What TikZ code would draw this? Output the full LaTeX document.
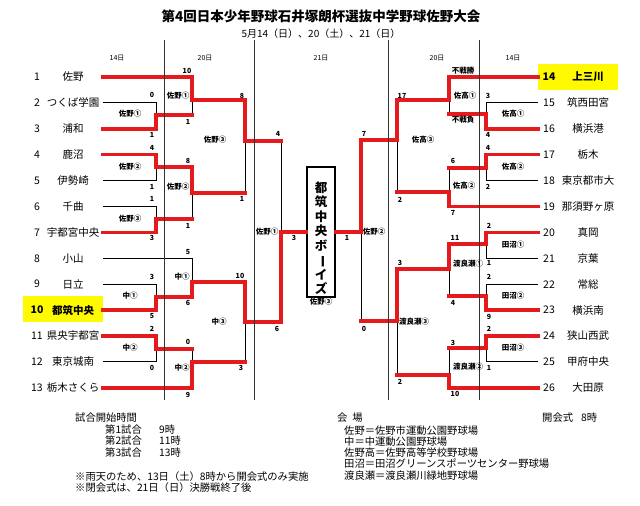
\documentclass[tikz,border=0pt]{standalone}
\usepackage{fontspec}
\setmainfont{Noto Sans CJK JP}
\usepackage{tikz}
\usetikzlibrary{calc}
\definecolor{winred}{RGB}{228,26,28}
\definecolor{hilite}{RGB}{255,250,0}

\begin{document}
\begin{tikzpicture}[x = 1pt, y = -1pt,
  lose/.style = {draw=black, line width=0.9pt},
  win/.style = {draw=winred, line width=3.4pt, line cap=rect},
  divider/.style = {draw=black!80, line width=0.9pt},
  team/.style = {font=\fontsize{10.5}{12}\selectfont},
  pick/.style = {font=\fontsize{10.5}{12}\selectfont\bfseries},
  score/.style = {font=\fontsize{7}{8}\selectfont\bfseries, inner sep=0pt},
  venue/.style = {font=\fontsize{7.5}{8}\selectfont\bfseries, inner sep=0pt},
  day/.style = {font=\fontsize{7}{8}\selectfont, inner sep=0pt},
  note/.style = {font=\fontsize{10.3}{12}\selectfont, anchor=west, inner sep=0pt}]
\useasboundingbox (0,0) rectangle (640,506);

\node[font=\fontsize{13.5}{16}\selectfont\bfseries] (title) at (321,16) {第4回日本少年野球石井塚朗杯選抜中学野球佐野大会};
\node[font=\fontsize{10}{12}\selectfont] (dates) at (321,34) {5月14（日）、20（土）、21（日）};
\node[day] (d1) at (117,58) {14日};
\node[day] (d2) at (205,58) {20日};
\node[day] (d3) at (321,58) {21日};
\node[day] (d4) at (437,58) {20日};
\node[day] (d5) at (513,58) {14日};

\fill[hilite] (23,296) rectangle (103,322);
\fill[hilite] (538,64) rectangle (618,90);

\foreach \i/\name/\sty in {1/佐野/team, 2/つくば学園/team, 3/浦和/team, 4/鹿沼/team,
  5/伊勢崎/team, 6/千曲/team, 7/宇都宮中央/team, 8/小山/team, 9/日立/team,
  10/都筑中央/pick, 11/県央宇都宮/team, 12/東京城南/team, 13/栃木さくら/team}{
  \pgfmathsetmacro\yy{77+25.9*(\i-1)}
  \node[\sty] (n\i) at (37,\yy) {\i};
  \node[\sty] (t\i) at (73,\yy) {\name};
  \coordinate (s\i) at (103,\yy);
}
\foreach \i/\name/\sty in {14/上三川/pick, 15/筑西田宮/team, 16/横浜港/team, 17/栃木/team,
  18/東京都市大/team, 19/那須野ヶ原/team, 20/真岡/team, 21/京葉/team, 22/常総/team,
  23/横浜南/team, 24/狭山西武/team, 25/甲府中央/team, 26/大田原/team}{
  \pgfmathsetmacro\yy{77+25.9*(\i-14)}
  \node[\sty] (n\i) at (549,\yy) {\i};
  \node[\sty] (t\i) at (588,\yy) {\name};
  \coordinate (s\i) at (538,\yy);
}

\coordinate (sa1) at (156,115);
\coordinate (sa2) at (156,167);
\coordinate (sa3) at (156,219);
\coordinate (na1) at (156,297);
\coordinate (na2) at (156,349);
\coordinate (q1) at (192,100);
\coordinate (q2) at (192,193);
\coordinate (q3) at (192,282);
\coordinate (q4) at (192,362);
\coordinate (h1) at (245,141);
\coordinate (h2) at (245,322);
\coordinate (f1) at (281,232);

\coordinate (ta1) at (486,114);
\coordinate (ta2) at (486,168);
\coordinate (da1) at (486,244);
\coordinate (da2) at (486,296);
\coordinate (da3) at (486,348);
\coordinate (p1) at (449,100);
\coordinate (p2) at (449,192);
\coordinate (p3) at (449,269);
\coordinate (p4) at (449,375);
\coordinate (g1) at (397,140);
\coordinate (g2) at (397,321);
\coordinate (f2) at (361,232);

\node[draw, line width=1.8pt, minimum width=28pt, minimum height=130pt, inner sep=0pt] (champ) at (321,232) {};
\node[font=\fontsize{12.5}{14.5}\selectfont\bfseries, align=center, inner sep=0pt] (champname) at (321,238)
  {都\\筑\\中\\央\\ボ\\\rotatebox[origin=c]{-90}{ー}\\イ\\ズ};

% losers
\draw[lose] (s2) -| (sa1);
\draw[lose] (s5) -| (sa2);
\draw[lose] (s6) -| (sa3);
\draw[lose] (s9) -| (na1);
\draw[lose] (s12) -| (na2);
\draw[lose] (sa1 -| q1) -- (q1);
\draw[lose] (sa3 -| q2) -- (q2);
\draw[lose] (s8) -| (q3);
\draw[lose] (na2 -| q4) -- (q4);
\draw[lose] (q2 -| h1) -- (h1);
\draw[lose] (q4 -| h2) -- (h2);
\draw[lose] (h1 -| f1) -- (f1);
\draw[lose] (s15) -| (ta1);
\draw[lose] (s18) -| (ta2);
\draw[lose] (s21) -| (da1);
\draw[lose] (s22) -| (da2);
\draw[lose] (s25) -| (da3);
\draw[lose] (ta1 -| p1) -- (p1);
\draw[lose] (ta2 -| p2) -- (p2);
\draw[lose] (da2 -| p3) -- (p3);
\draw[lose] (da3 -| p4) -- (p4);
\draw[lose] (p2 -| g1) -- (g1);
\draw[lose] (p4 -| g2) -- (g2);
\draw[lose] (g2 -| f2) -- (f2);

% winners
\draw[win] (s3) -| (sa1) -- (sa1 -| q1);
\draw[win] (s4) -| (sa2) -- (sa2 -| q1);
\draw[win] (s7) -| (sa3) -- (sa3 -| q2);
\draw[win] (s10) -| (na1) -- (na1 -| q3);
\draw[win] (s11) -| (na2) -- (na2 -| q4);
\draw[win] (s1) -| (q1) -- (q1 -| h1);
\draw[win] (sa2 -| q2) -- (q2) -- (q2 -| h1);
\draw[win] (na1 -| q3) -- (q3) -- (q3 -| h2);
\draw[win] (s13) -| (q4) -- (q4 -| h2);
\draw[win] (q1 -| h1) -- (h1) -- (h1 -| f1);
\draw[win] (q3 -| h2) -- (h2) -- (h2 -| f1);
\draw[win] (h2 -| f1) -- (f1) -- (champ.west);
\draw[win] (s16) -| (ta1) -- (ta1 -| p1);
\draw[win] (s17) -| (ta2) -- (ta2 -| p2);
\draw[win] (s20) -| (da1) -- (da1 -| p3);
\draw[win] (s23) -| (da2) -- (da2 -| p3);
\draw[win] (s24) -| (da3) -- (da3 -| p4);
\draw[win] (s14) -| (p1) -- (p1 -| g1);
\draw[win] (s19) -| (p2) -- (p2 -| g1);
\draw[win] (da1 -| p3) -- (p3) -- (p3 -| g2);
\draw[win] (s26) -| (p4) -- (p4 -| g2);
\draw[win] (p1 -| g1) -- (g1) -- (g1 -| f2);
\draw[win] (p3 -| g2) -- (g2) -- (g2 -| f2);
\draw[win] (g1 -| f2) -- (f2) -- (champ.east);

\draw[divider] (164,40) -- (164,400);
\draw[divider] (254,40) -- (254,400);
\draw[divider] (388,40) -- (388,400);
\draw[divider] (479,40) -- (479,400);

\foreach [count=\k] \x/\y/\s in {152/95/0, 152/135/1, 152/148/4, 152/187/1, 152/199/1,
  152/238/3, 152/277/3, 152/316/5, 152/329/2, 152/368/0, 187/71/10, 188/122/1,
  188/161/8, 188/226/1, 188/252/5, 188/303/6, 188/342/0, 188/395/9, 242/96/8,
  242/199/1, 240/276/10, 241/368/3, 278/134/4, 277/329/6, 294/238/3,
  488/96/3, 488/135/4, 488/148/4, 488/187/2, 489/226/2, 489/263/1, 489/277/2,
  489/317/9, 489/329/2, 489/368/1, 453/161/6, 453/213/7, 455/238/11, 453/303/4,
  453/343/3, 455/394/10, 402/96/17, 400/200/2, 400/263/3, 400/382/2, 364/134/7,
  364/329/0, 347/238/1}
  \node[score] (sc\k) at (\x,\y) {\s};

\foreach [count=\k] \x/\y/\v in {130/114/佐野①, 130/167/佐野②, 130/219/佐野③,
  130/296/中①, 130/348/中②, 178/96/佐野①, 178/187/佐野②, 182/277/中①, 182/368/中②,
  215/140/佐野③, 219/322/中③, 267/232/佐野①, 321/302/佐野③,
  513/114/佐高①, 513/167/佐高②, 513/245/田沼①, 513/296/田沼②, 513/348/田沼③,
  465/96/佐高①, 464/186/佐高②, 468/264/渡良瀬①, 468/367/渡良瀬②,
  463/71/不戦勝, 463/120/不戦負, 423/140/佐高③, 414/322/渡良瀬③, 374/232/佐野②}
  \node[venue] (v\k) at (\x,\y) {\v};

\node[note] (times) at (75,418) {試合開始時間};
\node[note] (g1a) at (105,430) {第1試合};
\node[note] (g1b) at (159,430) {9時};
\node[note] (g2a) at (105,441) {第2試合};
\node[note] (g2b) at (159,441) {11時};
\node[note] (g3a) at (105,453) {第3試合};
\node[note] (g3b) at (159,453) {13時};
\node[note] (rain) at (75,477) {※雨天のため、13日（土）8時から開会式のみ実施};
\node[note] (close) at (75,488) {※閉会式は、21日（日）決勝戦終了後};

\node[note] (site) at (337,418) {会\hspace{5pt}場};
\node[note] (site1) at (344,431) {佐野＝佐野市運動公園野球場};
\node[note] (site2) at (344,442) {中＝中運動公園野球場};
\node[note] (site3) at (344,453) {佐野高＝佐野高等学校野球場};
\node[note] (site4) at (344,464) {田沼＝田沼グリーンスポーツセンター野球場};
\node[note] (site5) at (344,476) {渡良瀬＝渡良瀬川緑地野球場};
\node[note] (open) at (542,418) {開会式\hspace{8pt}8時};
\end{tikzpicture}
\end{document}
